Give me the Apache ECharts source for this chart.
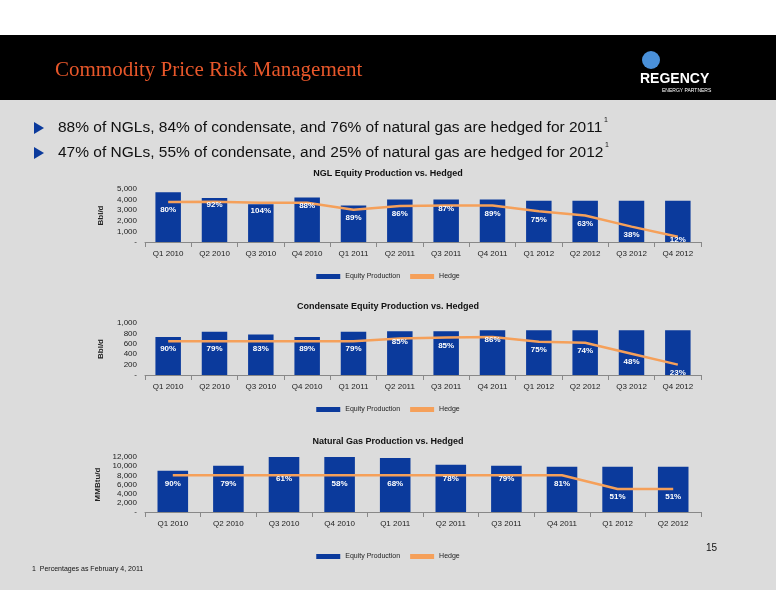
<!DOCTYPE html><html><head><meta charset="utf-8"><script src="https://cdn.jsdelivr.net/npm/echarts@6/dist/echarts.min.js"></script>
<style>html,body{margin:0;padding:0;background:#fff}#c{width:776px;height:600px}</style></head><body><div id="c"></div><script>
const catsA=['Q1 2010','Q2 2010','Q3 2010','Q4 2010','Q1 2011','Q2 2011','Q3 2011','Q4 2011','Q1 2012','Q2 2012','Q3 2012','Q4 2012'];
const catsGas=catsA.slice(0,10);
const nglProd=[4700,4150,3550,4200,3450,4000,4000,4000,3900,3900,3900,3900];
const nglHedge=[3780,3800,3700,3700,3050,3400,3450,3450,2900,2500,1450,500];
const nglPct=['80%','92%','104%','88%','89%','86%','87%','89%','75%','63%','38%','12%'];
const conProd=[730,830,780,730,830,840,840,860,860,860,860,860];
const conHedge=[650,650,650,650,650,700,720,730,640,620,410,200];
const conPct=['90%','79%','83%','89%','79%','85%','85%','86%','75%','74%','48%','23%'];
const gasProd=[9000,10100,12000,12000,11800,10300,10100,9900,9900,9900];
const gasHedge=[8000,8000,8000,8000,8000,8000,8000,8000,5000,5000];
const gasPct=['90%','79%','61%','58%','68%','78%','79%','81%','51%','51%'];
const c=echarts.init(document.getElementById('c'));
const F='Liberation Sans';
const grids=[{top:189,height:53},{top:323,height:52},{top:457,height:55}];
const fmt=v=>v===0?'-':v.toLocaleString('en-US');
function xa(i,cats){return {gridIndex:i,type:'category',data:cats,axisLine:{lineStyle:{color:'#888'}},axisTick:{show:true,lineStyle:{color:'#888'}},axisLabel:{color:'#222',fontSize:8,fontFamily:F,margin:8}};}
function ya(i,max,iv,name){return {gridIndex:i,type:'value',min:0,max:max,interval:iv,name:name,nameLocation:'middle',nameGap:40,nameRotate:90,nameTextStyle:{fontSize:8,fontWeight:'bold',color:'#222'},axisLine:{show:false},splitLine:{show:false},axisLabel:{color:'#222',fontSize:8,fontFamily:F,formatter:fmt}};}
function ser(i,prod,hedge,pct,below){
 return [{type:'bar',name:'Equity Production',xAxisIndex:i,yAxisIndex:i,data:prod,barWidth:'55%',itemStyle:{color:'#0b3a9c'}},
 {type:'line',name:'Hedge',xAxisIndex:i,yAxisIndex:i,data:hedge.map((v,k)=>({value:v,label:{distance:below[k]?4:-1}})),symbol:'circle',symbolSize:0.1,showSymbol:true,lineStyle:{color:'#f5a05a',width:2.5},itemStyle:{color:'#f5a05a'},z:5,
 label:{show:true,position:'bottom',color:'#fff',fontSize:8,fontWeight:'bold',fontFamily:F,formatter:p=>pct[p.dataIndex]}}];
}
c.setOption({backgroundColor:'#fff',animation:false,
 graphic:[
  {type:'rect',shape:{x:0,y:100,width:776,height:490},style:{fill:'#dcdcdc'}},
  {type:'rect',shape:{x:0,y:35,width:776,height:65},style:{fill:'#000'}},
  {type:'text',left:55,top:60,style:{text:'Commodity Price Risk Management',fill:'#e8572a',font:'21px "Liberation Serif"'}},
  {type:'text',left:640,top:72,style:{text:'REGENCY',fill:'#fff',font:'bold 14px "Liberation Sans"'}},
  {type:'text',left:662,top:88,style:{text:'ENERGY PARTNERS',fill:'#fff',font:'5px "Liberation Sans"'}},
  {type:'circle',shape:{cx:651,cy:60,r:9},style:{fill:'#4a90d9'}},
  {type:'polygon',shape:{points:[[34,122],[34,134],[44,128]]},style:{fill:'#0b3a9c'}},
  {type:'polygon',shape:{points:[[34,147],[34,159],[44,153]]},style:{fill:'#0b3a9c'}},
  {type:'text',left:58,top:120,style:{text:'88% of NGLs, 84% of condensate, and 76% of natural gas are hedged for 2011',fill:'#111',font:'15.5px "Liberation Sans"'}},
  {type:'text',left:604,top:117,style:{text:'1',fill:'#111',font:'7px "Liberation Sans"'}},
  {type:'text',left:58,top:145,style:{text:'47% of NGLs, 55% of condensate, and 25% of natural gas are hedged for 2012',fill:'#111',font:'15.5px "Liberation Sans"'}},
  {type:'text',left:605,top:142,style:{text:'1',fill:'#111',font:'7px "Liberation Sans"'}},
  {type:'text',left:32,top:566,style:{text:'1  Percentages as February 4, 2011',fill:'#111',font:'7px "Liberation Sans"'}},
  {type:'text',left:706,top:543,style:{text:'15',fill:'#111',font:'10px "Liberation Sans"'}}
 ],
 title:[
  {text:'NGL Equity Production vs. Hedged',left:'center',top:164,textStyle:{fontSize:9,fontWeight:'bold',fontFamily:F,color:'#111'}},
  {text:'Condensate Equity Production vs. Hedged',left:'center',top:297,textStyle:{fontSize:9,fontWeight:'bold',fontFamily:F,color:'#111'}},
  {text:'Natural Gas Production vs. Hedged',left:'center',top:432,textStyle:{fontSize:9,fontWeight:'bold',fontFamily:F,color:'#111'}}
 ],
 legend:[0,1,2].map((i)=>({top:[268,401,548][i],left:'center',itemWidth:24,itemHeight:5,itemGap:10,textStyle:{fontSize:7,fontFamily:F,color:'#222'},data:[{name:'Equity Production',icon:'rect'},{name:'Hedge',icon:'rect'}]})),
 grid:grids.map(g=>({left:145,right:75,top:g.top,height:g.height})),
 xAxis:[xa(0,catsA),xa(1,catsA),xa(2,catsGas)],
 yAxis:[ya(0,5000,1000,'Bbl/d'),ya(1,1000,200,'Bbl/d'),ya(2,12000,2000,'MMBtu/d')],
 series:[...ser(0,nglProd,nglHedge,nglPct,[1,0,1,0,1,1,0,1,1,1,1,0]),...ser(1,conProd,conHedge,conPct,[1,1,1,1,1,0,1,0,1,1,1,1]),...ser(2,gasProd,gasHedge,gasPct,[1,1,0,1,1,0,0,1,1,1])]
});
</script></body></html>
